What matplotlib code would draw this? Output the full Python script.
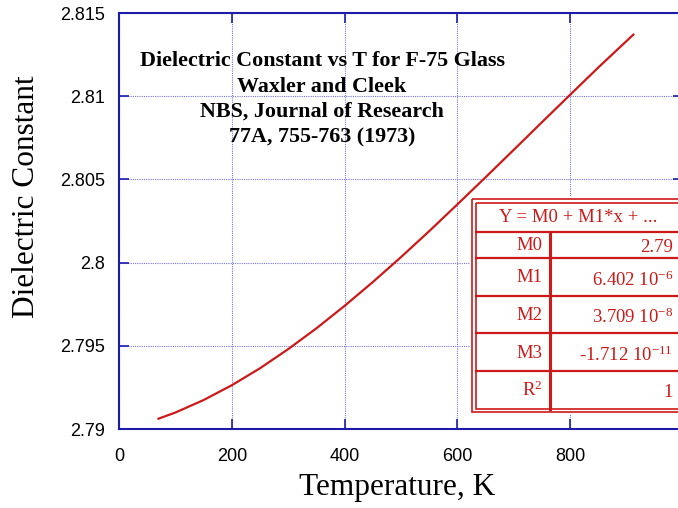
import matplotlib
matplotlib.use("Agg")
from matplotlib import pyplot as plt
from matplotlib.lines import Line2D

plt.rcParams["mathtext.fontset"] = "custom"
plt.rcParams["mathtext.rm"] = "Liberation Serif"
plt.rcParams["mathtext.it"] = "Liberation Serif:italic"

# curve (temperature K, dielectric constant)
temp_k = [70, 100, 150, 200, 250, 300, 350, 400, 450, 500, 550, 600,
          650, 700, 750, 800, 850, 900, 912]
eps = [2.79062, 2.79099, 2.79174, 2.79263, 2.79365, 2.79480, 2.79605,
       2.79740, 2.79883, 2.80033, 2.80189, 2.80350, 2.80513, 2.80678,
       2.80844, 2.81009, 2.81173, 2.81332, 2.81370]

x_ticks = [0, 200, 400, 600, 800]
y_ticks = [2.79, 2.795, 2.8, 2.805, 2.81, 2.815]
y_tick_labels = ["2.79", "2.795", "2.8", "2.805", "2.81", "2.815"]

title_lines = ["Dielectric Constant vs T for F-75 Glass",
               "Waxler and Cleek",
               "NBS, Journal of Research",
               "77A, 755-763 (1973)"]

fit_header = "Y = M0 + M1*x + ..."
fit_names = ["M0", "M1", "M2", "M3", "R$^2$"]
fit_values = ["2.79", "6.402 10$^{-6}$", "3.709 10$^{-8}$",
              "-1.712 10$^{-11}$", "1"]

W, H = 678, 508
blue = "#1c1ca8"
grid_blue = "#7878dc"
red = "#cc1a1a"

fig = plt.figure(figsize=(W / 100, H / 100), dpi=100)
ax = fig.add_axes([119 / W, (H - 429) / H, 564 / W, 416 / H])

ax.plot(temp_k, eps, color=red, lw=1.6, zorder=3)
ax.set_xlim(0, 1000)
ax.set_ylim(2.79, 2.815)
ax.set_xticks(x_ticks)
ax.set_xticklabels([str(t) for t in x_ticks])
ax.set_yticks(y_ticks)
ax.set_yticklabels(y_tick_labels)

ax.grid(True, color=grid_blue, linestyle=(0, (1, 1)), lw=0.8)
for s in ax.spines.values():
    s.set_color(blue)
    s.set_linewidth(1.5)
ax.tick_params(direction="in", length=7, width=1.2, color=blue,
               top=True, right=True, labelsize=13,
               labelfontfamily="Liberation Sans")
ax.tick_params(axis="x", pad=14)
ax.tick_params(axis="y", pad=10)

fig.text(397 / W, 1 - 487 / H, "Temperature, K", ha="center", va="center",
         family="Liberation Serif", fontsize=22.5)
fig.text(27 / W, 1 - 197 / H, "Dielectric Constant", ha="center",
         va="center", rotation=90, family="Liberation Serif", fontsize=22.5)

# note at top left
for i, line in enumerate(title_lines):
    fig.text(322 / W, 1 - (66 + i * 25.5) / H, line, ha="center",
             va="baseline", family="Liberation Serif", weight="bold",
             fontsize=15.8)

# fit parameter box, drawn in pixel coordinates
tab = fig.add_axes([470 / W, (H - 414) / H, 240 / W, 217 / H])
tab.set_xlim(470, 710)
tab.set_ylim(414, 197)
tab.axis("off")
tab.add_patch(plt.Rectangle((470, 197), 240, 217, fc="white", ec="none"))
for off, lw in [(2, 1.2), (5.5, 1.2)]:
    tab.add_patch(plt.Rectangle((470 + off, 197 + off), 240, 217 - 2 * off,
                                fill=False, ec=red, lw=lw))
rows = [232, 258, 296, 333, 371, 408.5]
for y in rows[:-1]:
    tab.add_line(Line2D([475.5, 710], [y, y], color=red, lw=1.6))
tab.add_line(Line2D([550, 550], [232, 408.5], color=red, lw=2.2))

tab.text(578, 217, fit_header, ha="center", va="center", color=red,
         family="Liberation Serif", fontsize=13.5)
for i, (name, val) in enumerate(zip(fit_names, fit_values)):
    yc = (rows[i] + rows[i + 1]) / 2 + 1
    tab.text(542, yc, name, ha="right", va="center", color=red,
             family="Liberation Serif", fontsize=13.5)
    tab.text(673, yc + 2, val, ha="right", va="center", color=red,
             family="Liberation Serif", fontsize=13.5)

fig.savefig("out.png", dpi=100)
